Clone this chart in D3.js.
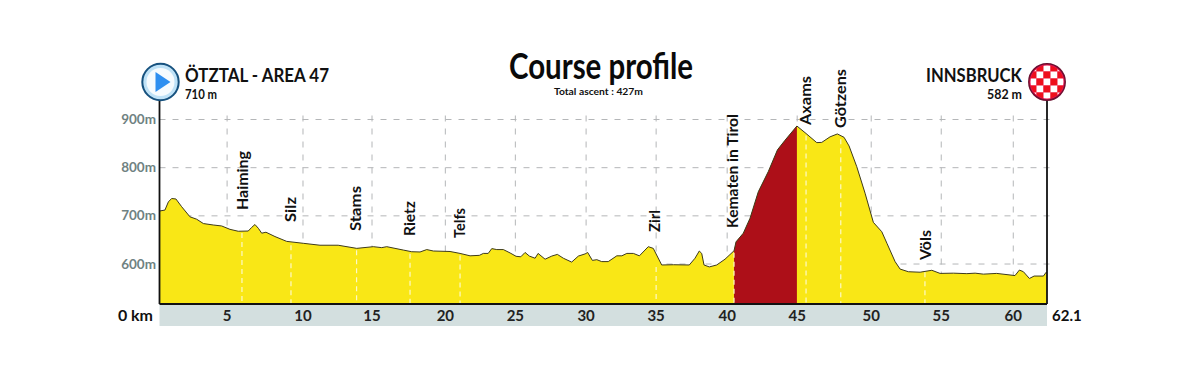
<!DOCTYPE html>
<html>
<head>
<meta charset="utf-8">
<script src="https://cdn.jsdelivr.net/npm/d3@7"></script>
<style>
  html, body { margin: 0; padding: 0; background: #fff; }
  svg { display: block; }
  text { font-family: Lato, "Open Sans", sans-serif; font-weight: 700; }
</style>
</head>
<body>
<div id="chart"></div>
<script>
// distance (km) and elevation (m)
const profileKm = [0, 0.38, 0.62, 0.85, 1.15, 1.55, 2.13, 2.6, 3.07, 3.76, 4.35, 4.93, 5.51, 6.21, 6.45, 6.68, 6.92, 7.15, 7.45, 8.08,
    8.9, 10.06, 11.23, 12.5, 13.8, 14.96, 15.55, 15.9, 17.06, 17.65, 18.23, 18.7, 19.16, 20.33, 21.03, 21.73, 22.38, 22.66, 23.0, 23.25,
    23.6, 24.06, 24.53, 24.95, 25.28, 25.58, 25.88, 26.28, 26.49, 26.98, 27.45, 27.84, 28.26, 28.84, 29.31, 29.78, 29.96, 30.29, 30.6, 30.94,
    31.4, 32, 32.35, 32.7, 33.16, 33.58, 34.2, 34.55, 35.14, 35.96, 37.07, 37.47, 37.77, 37.94, 38.1, 38.47, 38.99, 39.57, 40.2, 40.34,
    40.85, 41.32, 41.9, 42.6, 43.24, 43.77, 44.6, 45.24, 45.99, 46.34, 46.92, 47.43, 47.9, 48.25, 48.79, 49.37, 49.95, 50.54, 50.9, 51.47,
    51.82, 52.4, 53.22, 54.04, 54.62, 55.55, 56.49, 57.07, 57.65, 58.58, 59.86, 60.17, 60.45, 60.87, 61.2, 61.85, 62.04, 62.1];
const profileEle = [710, 712, 729, 736, 735, 719, 698, 693, 684, 681, 679, 672, 668, 668.5, 676, 682, 674, 664, 666, 657,
    647, 643, 639, 639, 632.5, 636, 634, 636, 629, 625.5, 625, 630, 627, 626, 622, 617, 618, 622, 622, 632,
    630, 630, 623, 616, 615, 624, 616.5, 612, 622, 610, 616.5, 620, 612, 604, 616.5, 621, 624, 607.5, 609, 605,
    605, 617, 617, 622, 622, 617, 636, 632.5, 598, 598.5, 598, 612, 627, 622, 598, 594, 598, 610, 627.5, 646,
    664, 695, 750, 792, 837, 857, 886.5, 871, 852, 852.5, 864, 870, 863, 845, 802, 747, 686.5, 667, 643, 605,
    589.5, 584, 583, 587, 580.5, 581, 580, 581, 579, 580.5, 576, 587.5, 584, 570, 575, 575, 583, 582];

// the printed km marks are not evenly spaced on the original
const kmTickLabels = [5, 10, 15, 20, 25, 30, 35, 40, 45, 50, 55, 60];
const kmTickAt = [4.73, 10.04, 14.87, 20, 24.9, 29.85, 34.75, 39.72, 44.62, 49.8, 54.7, 59.74];
const eleTicks = [600, 700, 800, 900];

const towns = ["Haiming", "Silz", "Stams", "Rietz", "Telfs", "Zirl", "Kematen in Tirol", "Axams", "Götzens", "Völs"];
const townKm = [5.77, 9.2, 13.79, 17.53, 21.03, 34.75, 40.2, 45.24, 47.67, 53.56];

const climbStart = 40.2;
const climbEnd = 44.6;
const totalKm = 62.1;

const width = 1200;
const height = 388;
const marginLeft = 159.5;
const marginRight = 153;
const plotTop = 119.5;
const plotBottom = 304;

const profile = profileKm.map((km, i) => ({ km: km, ele: profileEle[i] }));

const x = d3.scaleLinear().domain([0, totalKm]).range([marginLeft, width - marginRight]);
const y = d3.scaleLinear().domain([517, 900]).range([plotBottom, plotTop]);

const svg = d3.select("#chart").append("svg")
    .attr("width", width)
    .attr("height", height)
    .attr("viewBox", [0, 0, width, height]);

// grid
const gridColor = "#b4b6b8";
svg.append("g")
    .attr("stroke", gridColor)
    .attr("stroke-dasharray", "6,7")
    .selectAll("line")
    .data(eleTicks)
    .join("line")
    .attr("x1", marginLeft)
    .attr("x2", x(totalKm) + 3)
    .attr("y1", d => y(d))
    .attr("y2", d => y(d));

svg.append("g")
    .attr("stroke", gridColor)
    .attr("stroke-dasharray", "6,7")
    .selectAll("line")
    .data(kmTickAt)
    .join("line")
    .attr("x1", d => x(d))
    .attr("x2", d => x(d))
    .attr("y1", plotTop - 4)
    .attr("y2", plotBottom);

// profile
const area = d3.area().x(d => x(d.km)).y0(plotBottom).y1(d => y(d.ele));
const line = d3.line().x(d => x(d.km)).y(d => y(d.ele));

svg.append("path")
    .attr("d", area(profile))
    .attr("fill", "#f9e716");

svg.append("path")
    .attr("d", area(profile.filter(d => d.km >= climbStart && d.km <= climbEnd)))
    .attr("fill", "#ad0f18");

svg.append("path")
    .attr("d", line(profile))
    .attr("fill", "none")
    .attr("stroke", "#3d3a1c")
    .attr("stroke-width", 1);

// white dashes under each town
const townEle = km => {
    const i = d3.bisector(d => d.km).left(profile, km);
    return profile[Math.max(i, 0)].ele;
};
svg.append("g")
    .attr("stroke", "#fdf9c8")
    .attr("stroke-width", 1.2)
    .attr("stroke-dasharray", "5,4")
    .selectAll("line")
    .data(townKm)
    .join("line")
    .attr("x1", d => x(d))
    .attr("x2", d => x(d))
    .attr("y1", d => y(townEle(d)) + 2)
    .attr("y2", plotBottom);

// town names, bottom end of each rotated label
const townLabelY = [210, 222, 231, 236, 238, 232, 228, 125, 128, 260];
const townLabelX = [248, 296, 361, 415, 465, 660, 738, 811, 846, 931];
const townTextLength = [59, 25, 45, 35, 30, 22, 114, 49, 59, 30];
svg.append("g")
    .selectAll("text")
    .data(towns)
    .join("text")
    .attr("transform", (d, i) => `translate(${townLabelX[i]},${townLabelY[i]}) rotate(-90)`)
    .attr("font-size", 14.5)
    .attr("textLength", (d, i) => townTextLength[i])
    .attr("lengthAdjust", "spacingAndGlyphs")
    .attr("fill", "#111")
    .text(d => d);

// axis band
svg.append("rect")
    .attr("x", x(0))
    .attr("y", plotBottom)
    .attr("width", x(totalKm) - x(0))
    .attr("height", 22)
    .attr("fill", "#d3dfdf");

svg.append("g")
    .attr("stroke", "#111")
    .attr("stroke-width", 1.8)
    .call(g => g.append("line").attr("x1", x(0)).attr("x2", x(totalKm)).attr("y1", plotBottom).attr("y2", plotBottom))
    .call(g => g.append("line").attr("x1", x(0)).attr("x2", x(0)).attr("y1", 90).attr("y2", plotBottom))
    .call(g => g.append("line").attr("x1", x(totalKm)).attr("x2", x(totalKm)).attr("y1", 90).attr("y2", plotBottom));

// km labels
svg.append("g")
    .selectAll("text")
    .data(kmTickLabels)
    .join("text")
    .attr("x", (d, i) => x(kmTickAt[i]))
    .attr("y", 320.5)
    .attr("text-anchor", "middle")
    .attr("font-size", 15)
    .attr("fill", "#222")
    .text(d => d);

svg.append("text")
    .attr("x", 153)
    .attr("y", 321)
    .attr("text-anchor", "end")
    .attr("font-size", 16)
    .attr("font-weight", 900)
    .attr("fill", "#111")
    .text("0 km");

svg.append("text")
    .attr("x", 1052)
    .attr("y", 320.5)
    .attr("font-size", 15)
    .attr("fill", "#111")
    .text(totalKm);

// elevation labels
svg.append("g")
    .selectAll("text")
    .data(eleTicks)
    .join("text")
    .attr("x", 156)
    .attr("y", d => y(d) + 4.5)
    .attr("text-anchor", "end")
    .attr("font-size", 13.5)
    .attr("fill", "#6f8282")
    .text(d => d + "m");

// title
svg.append("text")
    .attr("x", 601)
    .attr("y", 79)
    .attr("text-anchor", "middle")
    .attr("font-size", 36)
    .attr("textLength", 184)
    .attr("lengthAdjust", "spacingAndGlyphs")
    .attr("font-weight", 900)
    .attr("fill", "#0a0a0a")
    .text("Course profile");

svg.append("text")
    .attr("x", 598.5)
    .attr("y", 95)
    .attr("text-anchor", "middle")
    .attr("font-size", 9.5)
    .attr("textLength", 89)
    .attr("lengthAdjust", "spacingAndGlyphs")
    .attr("fill", "#111")
    .text("Total ascent : 427m");

// start and finish
svg.append("text")
    .attr("x", 185)
    .attr("y", 82)
    .attr("font-size", 19)
    .attr("font-weight", 900)
    .attr("textLength", 144)
    .attr("lengthAdjust", "spacingAndGlyphs")
    .attr("fill", "#111")
    .text("ÖTZTAL - AREA 47");

svg.append("text")
    .attr("x", 185)
    .attr("y", 98.5)
    .attr("font-size", 12.5)
    .attr("font-weight", 900)
    .attr("textLength", 32)
    .attr("lengthAdjust", "spacingAndGlyphs")
    .attr("fill", "#111")
    .text("710 m");

svg.append("text")
    .attr("x", 926)
    .attr("y", 82)
    .attr("font-size", 19)
    .attr("font-weight", 900)
    .attr("textLength", 96)
    .attr("lengthAdjust", "spacingAndGlyphs")
    .attr("fill", "#111")
    .text("INNSBRUCK");

svg.append("text")
    .attr("x", 987)
    .attr("y", 98.5)
    .attr("font-size", 12.5)
    .attr("font-weight", 900)
    .attr("textLength", 35)
    .attr("lengthAdjust", "spacingAndGlyphs")
    .attr("fill", "#111")
    .text("582 m");

// start badge
const start = svg.append("g").attr("transform", `translate(${x(0) + 1},82)`);
start.append("circle").attr("r", 18.2).attr("fill", "#bfe2f7").attr("stroke", "#17527f").attr("stroke-width", 2);
start.append("circle").attr("r", 14).attr("fill", "#f6fbfe");
start.append("path").attr("d", "M-5,-10L10,0L-5,10Z").attr("fill", "#2e8ff0");

// finish badge
const finish = svg.append("g").attr("transform", `translate(${x(totalKm)},82)`);
svg.append("clipPath").attr("id", "flag").append("circle").attr("r", 16.5);
finish.append("circle").attr("r", 18.2).attr("fill", "#e8114b").attr("stroke", "#6d1030").attr("stroke-width", 1.5);
const cell = 7;
const cells = d3.cross(d3.range(-2, 3), d3.range(-2, 3));
finish.append("g")
    .attr("clip-path", "url(#flag)")
    .selectAll("rect")
    .data(cells)
    .join("rect")
    .attr("x", d => d[0] * cell - cell / 2)
    .attr("y", d => d[1] * cell - cell / 2)
    .attr("width", cell)
    .attr("height", cell)
    .attr("fill", d => (d[0] + d[1]) % 2 === 0 ? "#fff" : "#ee0f1c");
</script>
</body>
</html>
